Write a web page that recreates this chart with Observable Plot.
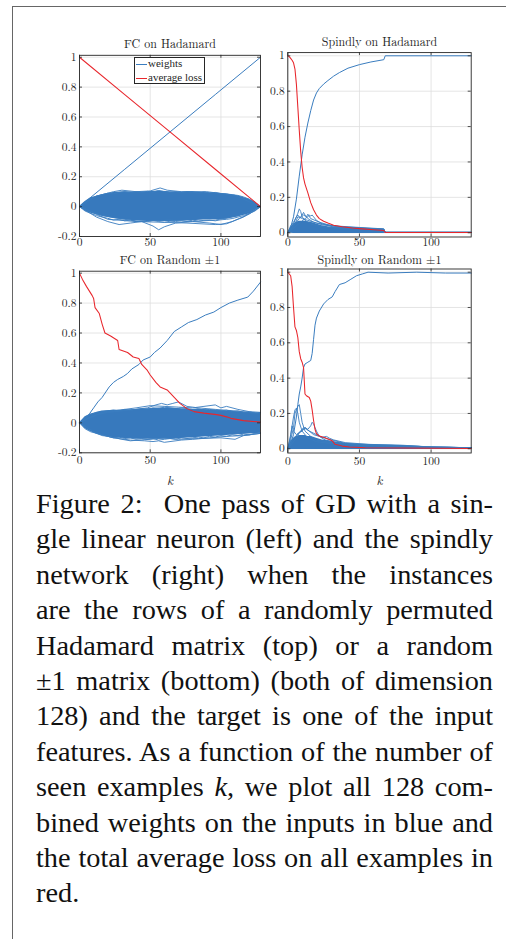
<!DOCTYPE html>
<html><head><meta charset="utf-8">
<script src="https://cdn.jsdelivr.net/npm/d3@7"></script>
<script src="https://cdn.jsdelivr.net/npm/@observablehq/plot@0.6"></script>
<style>
html,body{margin:0;padding:0;background:#fff;}
#page{position:relative;width:506px;height:939px;overflow:hidden;font-family:"Liberation Serif","Times New Roman",serif;color:#111;}
.panel{position:absolute;}
#btop{position:absolute;left:12px;top:6px;width:494px;height:0;border-top:1px solid #666;}
#bleft{position:absolute;left:12px;top:6px;width:0;height:933px;border-left:1px solid #666;}
#legend{position:absolute;left:134px;top:57px;width:69px;height:25px;border:1px solid #262626;background:#fff;font-family:"Liberation Serif","Times New Roman",serif;font-size:11px;color:#262626;}
#legend .row{position:absolute;left:0;height:12px;line-height:12px;white-space:nowrap;}
#legend .sw{display:inline-block;width:11px;height:1px;vertical-align:middle;margin:0 1px 0 1px;}
#caption{position:absolute;left:36px;top:486px;width:457px;font-family:"Liberation Serif","Times New Roman",serif;font-size:28.3px;line-height:35.4px;color:#111;}
#caption div{text-align:justify;text-align-last:justify;}
#caption div.last{text-align-last:left;}
</style>
</head><body>
<div id="page">
  <div id="btop"></div><div id="bleft"></div>
  <div id="tl" class="panel" style="left:30px;top:25px;width:240px;"></div>
  <div id="tr" class="panel" style="left:250px;top:25px;width:240px;"></div>
  <div id="bl" class="panel" style="left:30px;top:245px;width:240px;"></div>
  <div id="br" class="panel" style="left:250px;top:245px;width:240px;"></div>
  <div id="legend"></div>
  <div id="caption"></div>
</div>
<script>
// ---------- shared ----------
const xTicks = [0, 50, 100];
const yTicksFC = [-0.2, 0, 0.2, 0.4, 0.6, 0.8, 1];
const yTicksSp = [0, 0.2, 0.4, 0.6, 0.8, 1];
const K4 = [0,4,8,12,16,20,24,28,32,36,40,44,48,52,56,60,64,68,72,76,80,84,88,92,96,100,104,108,112,116,120,124,128];
const titles = ["FC on Hadamard", "Spindly on Hadamard", "FC on Random \u00b11", "Spindly on Random \u00b11"];
const legendLabels = ["weights", "average loss"];

// ---------- FC on Hadamard ----------
const tlLossK = [0, 32, 64, 96, 128];
const tlLoss  = [1, 0.75, 0.5, 0.25, 0];
const tlTgtK  = [0, 32, 64, 96, 128];
const tlTgt   = [0, 0.25, 0.5, 0.75, 1];
const tlBandK  = [0,4,8,16,24,32,40,48,56,64,72,80,88,96,104,112,120,124,128];
const tlBandHi = [0,0.035,0.06,0.08,0.095,0.1,0.098,0.1,0.105,0.1,0.098,0.1,0.095,0.09,0.085,0.072,0.05,0.03,0];
const tlBandLo = [0,-0.03,-0.045,-0.065,-0.08,-0.09,-0.095,-0.1,-0.1,-0.1,-0.097,-0.095,-0.09,-0.088,-0.085,-0.07,-0.05,-0.03,0];
const tlW1K = [0,16,32,44,52,56,60,68,80,96,112,128];
const tlW1  = [0,-0.06,-0.085,-0.1,-0.13,-0.155,-0.135,-0.11,-0.1,-0.09,-0.06,0];
const tlW2K = [0,12,20,28,36,48,64,80,92,100,108,120,128];
const tlW2  = [0,-0.07,-0.1,-0.12,-0.11,-0.095,-0.09,-0.1,-0.11,-0.12,-0.1,-0.05,0];
const tlW3K = [0,12,24,30,40,50,57,62,72,90,110,128];
const tlW3  = [0,0.07,0.1,0.11,0.1,0.105,0.125,0.11,0.1,0.1,0.075,0];
const tlW4K = [0,20,40,60,76,96,104,116,128];
const tlW4  = [0,-0.085,-0.1,-0.105,-0.11,-0.12,-0.115,-0.07,0];
const tlU = [0,0.03,0.055,0.07,0.08,0.09,0.085,0.095,0.1,0.092,0.1,0.095,0.102,0.097,0.108,0.1,0.095,0.1,0.093,0.1,0.097,0.09,0.098,0.092,0.095,0.088,0.085,0.08,0.075,0.065,0.05,0.03,0];
const tlL = [0,-0.03,-0.045,-0.06,-0.07,-0.078,-0.09,-0.085,-0.095,-0.09,-0.1,-0.095,-0.1,-0.092,-0.1,-0.105,-0.098,-0.1,-0.095,-0.1,-0.09,-0.097,-0.092,-0.09,-0.095,-0.088,-0.085,-0.08,-0.07,-0.06,-0.045,-0.03,0];

// ---------- Spindly on Hadamard ----------
const trLossK = [0,1,2,3,4,5,6,7,8,9,10,11,12,14,16,18,20,22,25,28,32,38,45,52,60,67,68,128];
const trLoss  = [1,0.995,0.985,0.975,0.96,0.925,0.84,0.71,0.58,0.46,0.37,0.31,0.275,0.225,0.17,0.13,0.1,0.08,0.065,0.055,0.043,0.034,0.027,0.022,0.017,0.013,0.001,0.001];
const trTgtK = [0,2,4,6,8,10,12,14,16,18,20,22,25,28,32,36,42,50,58,67,68,128];
const trTgt  = [0,0.03,0.09,0.19,0.32,0.44,0.54,0.62,0.69,0.75,0.79,0.815,0.84,0.86,0.885,0.905,0.93,0.95,0.965,0.978,1,1];
const trBandK  = [0,2,4,6,8,10,12,14,16,18,20,24,28,32,40,48,56,64,67,68,128];
const trBandHi = [0,0.03,0.05,0.06,0.065,0.065,0.065,0.062,0.06,0.055,0.05,0.04,0.034,0.03,0.028,0.025,0.022,0.02,0.019,0.003,0.003];
const trBandLo = [0,-0.003,-0.004,-0.004,-0.004,-0.004,-0.004,-0.004,-0.004,-0.004,-0.004,-0.004,-0.004,-0.004,-0.004,-0.004,-0.004,-0.004,-0.004,-0.003,-0.003];
const trW1K = [0,3,5,7,8,9,10,12,16,20,28,40,67,68,128];
const trW1  = [0,0.03,0.07,0.11,0.135,0.12,0.09,0.07,0.05,0.04,0.03,0.025,0.018,0.002,0.002];
const trW2K = [0,4,6,8,10,11,12,14,18,24,40,67,68,128];
const trW2  = [0,0.04,0.06,0.08,0.1,0.115,0.1,0.08,0.06,0.045,0.028,0.02,0.002,0.002];
const trW3K = [0,6,9,12,14,15,16,17,18,20,24,32,67,68,128];
const trW3  = [0,0.04,0.06,0.08,0.09,0.1,0.095,0.1,0.09,0.07,0.05,0.032,0.02,0.002,0.002];
const trW4K = [0,5,7,9,11,13,14,16,19,22,30,50,67,68,128];
const trW4  = [0,0.05,0.09,0.085,0.1,0.09,0.105,0.08,0.07,0.06,0.04,0.03,0.022,0.002,0.002];
const trW5K = [0,2,4,6,7,8,10,14,20,36,67,68,128];
const trW5  = [0,0.04,0.06,0.09,0.1,0.09,0.08,0.07,0.055,0.035,0.02,0.002,0.002];

// ---------- FC on Random ±1 ----------
const blLossK = [0,2,5,9,10,11,14,16,18,22,27,28,34,38,42,44,48,50,54,57,62,67,71,76,81,88,97,100,104,107,116,128];
const blLoss  = [1,0.96,0.91,0.85,0.83,0.77,0.73,0.66,0.6,0.58,0.55,0.49,0.47,0.44,0.43,0.39,0.35,0.32,0.27,0.24,0.22,0.17,0.13,0.095,0.075,0.065,0.055,0.05,0.04,0.03,0.015,0.005];
const blTgtK = [0,4,7,10,13,16,21,24,27,31,34,37,42,45,50,53,57,62,67,72,77,83,89,95,100,106,112,119,123,128];
const blTgt  = [0,0.03,0.06,0.1,0.14,0.17,0.24,0.27,0.29,0.31,0.33,0.36,0.39,0.42,0.44,0.47,0.5,0.55,0.61,0.64,0.67,0.69,0.72,0.74,0.77,0.8,0.82,0.84,0.88,0.94];
const blBandK  = [0,4,8,12,16,24,32,40,48,56,64,72,80,88,96,104,112,120,128];
const blBandHi = [0,0.04,0.06,0.07,0.08,0.085,0.085,0.09,0.095,0.1,0.1,0.095,0.09,0.09,0.085,0.08,0.075,0.07,0.065];
const blBandLo = [0,-0.04,-0.06,-0.075,-0.085,-0.1,-0.105,-0.11,-0.11,-0.11,-0.11,-0.105,-0.1,-0.095,-0.09,-0.085,-0.08,-0.075,-0.07];
const blW1K = [0,10,20,30,40,48,54,58,62,66,70,76,84,96,110,128];
const blW1  = [0,0.05,0.07,0.08,0.09,0.1,0.12,0.13,0.12,0.13,0.14,0.11,0.1,0.09,0.08,0.06];
const blW2K = [0,12,24,36,46,52,56,60,64,72,80,92,104,116,128];
const blW2  = [0,-0.07,-0.1,-0.115,-0.12,-0.125,-0.12,-0.13,-0.125,-0.115,-0.11,-0.1,-0.09,-0.085,-0.07];
const blW3K = [0,16,28,40,50,60,70,80,88,96,100,104,112,120,128];
const blW3  = [0,0.07,0.085,0.1,0.115,0.11,0.105,0.1,0.11,0.12,0.1,0.11,0.09,0.075,0.07];
const blW4K = [0,10,20,30,36,42,50,60,70,84,100,110,116,128];
const blW4  = [0,-0.06,-0.09,-0.11,-0.12,-0.115,-0.11,-0.1,-0.11,-0.105,-0.1,-0.11,-0.085,-0.07];
const blU = [0,0.04,0.055,0.07,0.075,0.08,0.085,0.08,0.09,0.085,0.09,0.095,0.09,0.1,0.095,0.105,0.1,0.095,0.1,0.095,0.09,0.095,0.085,0.09,0.085,0.08,0.085,0.075,0.08,0.07,0.075,0.065,0.07];
const blL = [0,-0.04,-0.06,-0.07,-0.085,-0.09,-0.1,-0.095,-0.105,-0.1,-0.11,-0.105,-0.11,-0.105,-0.115,-0.11,-0.105,-0.11,-0.1,-0.105,-0.1,-0.095,-0.1,-0.09,-0.095,-0.085,-0.09,-0.08,-0.085,-0.075,-0.08,-0.07,-0.065];

// ---------- Spindly on Random ±1 ----------
const brLossK = [0,2,3,4,5,6,7,8,9,10,11,12,13,15,16,17,18,19,20,22,26,31,33,38,43,54,80,128];
const brLoss  = [1,0.98,0.92,0.8,0.69,0.67,0.63,0.55,0.51,0.49,0.46,0.31,0.3,0.29,0.27,0.22,0.16,0.11,0.085,0.072,0.062,0.045,0.025,0.015,0.01,0.006,0.004,0.002];
const brTgtK = [0,2,4,6,7,8,9,10,11,12,14,16,17,18,19,20,22,25,28,31,33,36,40,44,48,52,56,70,90,110,128];
const brTgt  = [0,0.03,0.08,0.18,0.25,0.31,0.35,0.4,0.46,0.48,0.49,0.5,0.54,0.62,0.7,0.74,0.78,0.82,0.845,0.86,0.89,0.93,0.94,0.96,0.98,0.99,1.0,0.995,1.0,0.995,0.995];
const brBandK  = [0,2,4,6,8,10,12,14,16,18,20,24,28,32,36,40,48,56,64,72,80,88,92,96,104,112,120,128];
const brBandHi = [0,0.04,0.06,0.07,0.075,0.075,0.075,0.07,0.07,0.065,0.06,0.05,0.045,0.04,0.035,0.03,0.025,0.022,0.02,0.02,0.018,0.016,0.014,0.01,0.008,0.008,0.007,0.007];
const brBandLo = [0,-0.004,-0.004,-0.004,-0.004,-0.004,-0.004,-0.004,-0.004,-0.004,-0.004,-0.004,-0.004,-0.004,-0.004,-0.004,-0.004,-0.004,-0.004,-0.004,-0.004,-0.004,-0.004,-0.004,-0.004,-0.004,-0.004,-0.004];
const brW1K = [0,2,4,5,6,7,8,9,10,12,16,20,30,45,60,90,128];
const brW1  = [0,0.05,0.12,0.2,0.22,0.24,0.25,0.2,0.15,0.1,0.07,0.05,0.035,0.025,0.02,0.01,0.006];
const brW2K = [0,2,3,4,5,6,7,8,10,14,20,30,50,80,128];
const brW2  = [0,0.08,0.13,0.18,0.22,0.23,0.2,0.15,0.1,0.06,0.04,0.03,0.02,0.012,0.006];
const brW3K = [0,6,8,10,12,14,16,17,18,19,20,22,26,34,50,90,128];
const brW3  = [0,0.06,0.09,0.1,0.12,0.11,0.13,0.15,0.14,0.12,0.1,0.07,0.05,0.035,0.02,0.01,0.006];
const brW4K = [0,2,3,4,6,9,12,18,26,40,70,100,128];
const brW4  = [0,0.07,0.13,0.1,0.08,0.1,0.12,0.08,0.06,0.03,0.02,0.01,0.006];
const brW5K = [0,4,8,11,13,15,20,24,27,29,32,40,56,80,100,128];
const brW5  = [0,0.06,0.09,0.12,0.11,0.1,0.08,0.065,0.07,0.06,0.05,0.035,0.025,0.02,0.01,0.006];

// ---------- caption ----------
const captionLines = [
  "Figure 2: &nbsp;One pass of GD with a sin-",
  "gle linear neuron (left) and the spindly",
  "network (right) when the instances",
  "are the rows of a randomly permuted",
  "Hadamard matrix (top) or a random",
  "\u00b11 matrix (bottom) (both of dimension",
  "128) and the target is one of the input",
  "features. As a function of the number of",
  "seen examples <i>k</i>, we plot all 128 com-",
  "bined weights on the inputs in blue and",
  "the total average loss on all examples in",
  "red."
];

const BLUE = "#3a7dbf", BLUE_FILL = "#3779bd", RED = "#e8262c", INK = "#262626", GRID = "#dedede";
const FONT = "'Latin Modern Roman', 'Liberation Serif', serif";

function rows(k, v) { return k.map((kk, i) => ({k: kk, v: v[i]})); }

function panel(o) {
  const pw = o.width - o.ml - o.mr, ph = o.height - o.mt - o.mb;
  const band = o.bandK.map((k, i) => ({k, lo: o.bandLo[i], hi: o.bandHi[i]}));
  const wl = [];
  o.weights.forEach((s, j) => s[0].forEach((k, i) => wl.push({k, v: s[1][i], id: j})));
  const marks = [
    Plot.gridX(xTicks, {stroke: GRID, strokeOpacity: 1, strokeWidth: 0.8}),
    Plot.gridY(o.yTicks, {stroke: GRID, strokeOpacity: 1, strokeWidth: 0.8}),
    Plot.areaY(band, {x: "k", y1: "lo", y2: "hi", fill: BLUE_FILL}),
    Plot.line(wl, {x: "k", y: "v", z: "id", stroke: BLUE, strokeWidth: 0.9}),
    Plot.line(rows(o.tgtK, o.tgt), {x: "k", y: "v", stroke: BLUE, strokeWidth: 1}),
    Plot.line(rows(o.lossK, o.loss), {x: "k", y: "v", stroke: RED, strokeWidth: 1.05}),
    Plot.frame({stroke: INK, strokeWidth: 0.9}),
    Plot.tickY(o.yTicks, {y: d => d, insetRight: pw - 3, stroke: INK, strokeWidth: 0.8}),
    Plot.tickY(o.yTicks, {y: d => d, insetLeft: pw - 3, stroke: INK, strokeWidth: 0.8}),
    Plot.tickX(xTicks, {x: d => d, insetTop: ph - 3, stroke: INK, strokeWidth: 0.8}),
    Plot.tickX(xTicks, {x: d => d, insetBottom: ph - 3, stroke: INK, strokeWidth: 0.8}),
    Plot.axisX(xTicks, {tickSize: 0, tickPadding: o.xPad, label: null, fill: INK, fontSize: 11.5}),
    Plot.axisY(o.yTicks, {tickSize: 0, tickPadding: 3, label: null, tickFormat: d => String(d), fill: INK, fontSize: 11.5}),
    Plot.text([o.title], {text: d => d, frameAnchor: "top", lineAnchor: "middle", dy: o.titleDy, fontSize: 12, fill: INK})
  ];
  if (o.showK) marks.push(Plot.text(["k"], {text: d => d, frameAnchor: "bottom", lineAnchor: "middle", dy: 28, fontSize: 13, fontStyle: "italic", fill: INK}));
  return Plot.plot({
    width: o.width, height: o.height,
    marginLeft: o.ml, marginRight: o.mr, marginTop: o.mt, marginBottom: o.mb,
    x: {domain: [0, 128]},
    y: {domain: o.yDomain},
    style: {fontFamily: FONT, fontSize: "11.5px", background: "transparent", color: INK, overflow: "visible"},
    marks
  });
}

const tlWeights = [[tlW1K, tlW1], [tlW2K, tlW2], [tlW3K, tlW3], [tlW4K, tlW4], [K4, tlU], [K4, tlL]];
const trWeights = [[trW1K, trW1], [trW2K, trW2], [trW3K, trW3], [trW4K, trW4], [trW5K, trW5]];
const blWeights = [[blW1K, blW1], [blW2K, blW2], [blW3K, blW3], [blW4K, blW4], [K4, blU], [K4, blL]];
const brWeights = [[brW1K, brW1], [brW2K, brW2], [brW3K, brW3], [brW4K, brW4], [brW5K, brW5]];

document.getElementById("tl").appendChild(panel({
  width: 240, height: 240, ml: 49, mr: 10, mt: 29.8, mb: 29,
  yDomain: [-0.2, 1.013], yTicks: yTicksFC, title: titles[0], titleDy: -11.5, xPad: 1.5,
  bandK: tlBandK, bandHi: tlBandHi, bandLo: tlBandLo, weights: tlWeights,
  tgtK: tlTgtK, tgt: tlTgt, lossK: tlLossK, loss: tlLoss
}));
document.getElementById("tr").appendChild(panel({
  width: 240, height: 240, ml: 37.3, mr: 19.3, mt: 27.1, mb: 28.5,
  yDomain: [-0.024, 1.018], yTicks: yTicksSp, title: titles[1], titleDy: -10, xPad: 1,
  bandK: trBandK, bandHi: trBandHi, bandLo: trBandLo, weights: trWeights,
  tgtK: trTgtK, tgt: trTgt, lossK: trLossK, loss: trLoss
}));
document.getElementById("bl").appendChild(panel({
  width: 240, height: 250, ml: 49, mr: 10, mt: 25.7, mb: 42.7,
  yDomain: [-0.2, 1.013], yTicks: yTicksFC, title: titles[2], titleDy: -11, xPad: 3.5, showK: true,
  bandK: blBandK, bandHi: blBandHi, bandLo: blBandLo, weights: blWeights,
  tgtK: blTgtK, tgt: blTgt, lossK: blLossK, loss: blLoss
}));
document.getElementById("br").appendChild(panel({
  width: 240, height: 250, ml: 37.3, mr: 19.3, mt: 23.5, mb: 42.5,
  yDomain: [-0.024, 1.018], yTicks: yTicksSp, title: titles[3], titleDy: -9, xPad: 3.5, showK: true,
  bandK: brBandK, bandHi: brBandHi, bandLo: brBandLo, weights: brWeights,
  tgtK: brTgtK, tgt: brTgt, lossK: brLossK, loss: brLoss
}));

// legend
const lg = document.getElementById("legend");
[BLUE, RED].forEach((c, i) => {
  const r = document.createElement("div");
  r.className = "row";
  r.style.top = (i === 0 ? -0.7 : 12.7) + "px";
  r.innerHTML = `<span class="sw" style="background:${c}"></span>${legendLabels[i]}`;
  lg.appendChild(r);
});

// caption
const cap = document.getElementById("caption");
captionLines.forEach((t, i) => {
  const d = document.createElement("div");
  if (i === captionLines.length - 1) d.className = "last";
  d.innerHTML = t;
  cap.appendChild(d);
});
</script>
</body></html>
